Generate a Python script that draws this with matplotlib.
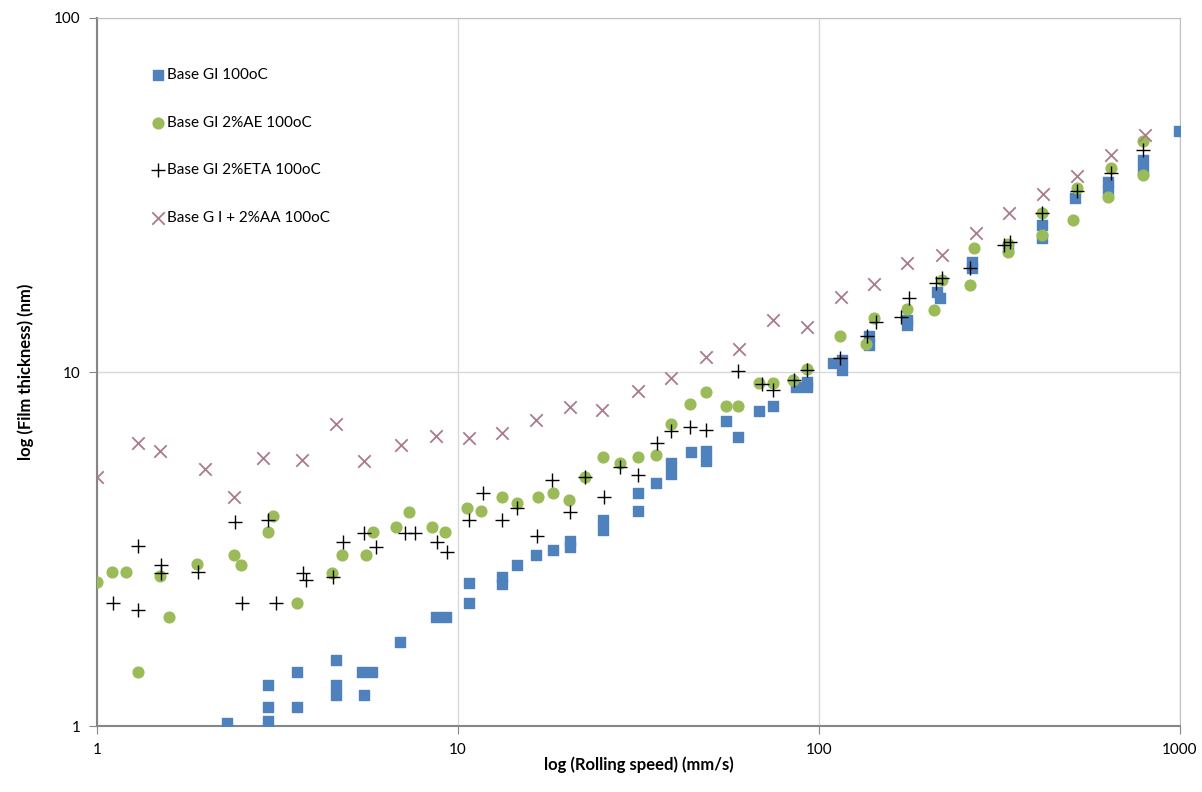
import matplotlib
matplotlib.use("Agg")
import matplotlib.pyplot as plt
from matplotlib.ticker import FixedLocator, NullLocator, FixedFormatter

plt.rcParams['font.family'] = ['Lato', 'DejaVu Sans']

# Base GI 100oC
gi_x = [2.29, 2.98, 2.98, 2.98, 3.58, 3.58, 4.59, 4.59, 4.59, 5.42, 5.78, 5.5,
        6.9, 8.69, 9.25, 10.7, 10.7, 13.2, 13.2, 14.6, 16.4, 18.3, 20.4, 20.4,
        25.2, 25.2, 31.5, 31.5, 35.3, 38.9, 38.9, 44.2, 48.6, 48.6, 55.2, 59.7,
        68.2, 74.6, 86.3, 92.6, 92.6, 109, 116, 116, 138, 138, 175, 175, 212,
        216, 265, 265, 334, 415, 415, 512, 632, 632, 790, 790, 994]
gi_y = [1.02, 1.31, 1.13, 1.03, 1.42, 1.13, 1.54, 1.31, 1.22, 1.42, 1.42, 1.22,
        1.73, 2.03, 2.03, 2.53, 2.23, 2.64, 2.52, 2.85, 3.05, 3.14, 3.33, 3.2,
        3.82, 3.57, 4.55, 4.05, 4.86, 5.53, 5.14, 5.94, 6.0, 5.6, 7.25, 6.57,
        7.75, 8.0, 9.1, 9.1, 9.4, 10.6, 10.8, 10.1, 12.6, 11.9, 14.0, 13.6, 16.8,
        16.2, 19.7, 20.4, 22.4, 26.0, 23.9, 31.0, 34.4, 32.7, 39.7, 37.3, 48.0]

# Base GI 2%AE 100oC
ae_x = [1.0, 1.1, 1.2, 1.3, 1.49, 1.58, 1.89, 2.4, 2.51, 2.98, 3.07, 3.58,
        4.48, 4.77, 5.56, 5.81, 6.73, 7.32, 8.47, 9.2, 10.6, 11.6, 13.2, 14.6,
        16.7, 18.3, 20.3, 22.5, 25.2, 28.1, 31.5, 35.3, 38.9, 43.9, 48.6, 55.2,
        59.7, 68.2, 74.6, 84.5, 92.6, 114, 135, 142, 175, 208, 219, 262, 268,
        334, 334, 415, 415, 505, 518, 632, 644, 790, 790]
ae_y = [2.55, 2.72, 2.72, 1.42, 2.65, 2.03, 2.87, 3.04, 2.85, 3.53, 3.92, 2.23,
        2.71, 3.04, 3.04, 3.53, 3.65, 4.02, 3.65, 3.53, 4.13, 4.05, 4.43, 4.26,
        4.43, 4.55, 4.35, 5.05, 5.75, 5.55, 5.75, 5.83, 7.13, 8.12, 8.78, 8.0,
        8.0, 9.31, 9.31, 9.49, 10.2, 12.6, 12.0, 14.2, 15.1, 15.0, 18.2, 17.6, 22.4,
        23.0, 21.8, 24.4, 28.1, 26.8, 33.0, 31.2, 37.7, 36.0, 45.0]

# Base GI 2%ETA 100oC
eta_x = [1.11, 1.3, 1.3, 1.5, 1.5, 1.9, 2.41, 2.52, 2.98, 3.13, 3.72, 3.79,
         4.5, 4.8, 5.49, 5.93, 7.13, 7.6, 8.74, 9.32, 10.7, 11.7, 13.2, 14.6,
         16.5, 18.2, 20.4, 22.5, 25.4, 28.1, 31.5, 35.5, 38.9, 43.9, 48.6, 59.7,
         69.5, 74.6, 85.3, 92.6, 114, 136, 144, 169, 177, 211, 219, 262, 325,
         338, 415, 518, 644, 790]
eta_y = [2.23, 3.22, 2.13, 2.85, 2.71, 2.72, 3.77, 2.23, 3.82, 2.23, 2.71, 2.58,
         2.63, 3.31, 3.51, 3.2, 3.51, 3.51, 3.31, 3.1, 3.82, 4.55, 3.82, 4.13,
         3.44, 4.95, 4.02, 5.05, 4.43, 5.39, 5.12, 6.3, 6.81, 6.99, 6.85, 10.06,
         9.24, 8.9, 9.49, 10.1, 10.95, 12.6, 13.8, 14.3, 16.2, 17.8, 18.4, 19.7, 22.9,
         23.3, 28.1, 32.5, 36.5, 42.4]

# Base G I + 2%AA 100oC
aa_x = [1.0, 1.3, 1.49, 1.99, 2.4, 2.88, 3.7, 4.59, 5.49, 6.95, 8.69, 10.7,
        13.2, 16.4, 20.4, 25.0, 31.5, 38.9, 48.6, 60.0, 74.6, 92.6, 115, 142,
        175, 219, 272, 336, 417, 518, 644, 800]
aa_y = [5.05, 6.3, 5.97, 5.32, 4.43, 5.7, 5.66, 7.13, 5.59, 6.22, 6.6, 6.51,
        6.73, 7.32, 7.96, 7.81, 8.84, 9.61, 11.0, 11.6, 14.0, 13.4, 16.3, 17.7,
        20.3, 21.4, 24.7, 28.1, 31.8, 35.8, 41.0, 46.7]

fig = plt.figure(figsize=(12.02, 7.92), dpi=100)
ax = fig.add_axes([0.0807, 0.0833, 0.9010, 0.8940])

ax.scatter(gi_x, gi_y, marker='s', s=60, color='#4F81BD', label='Base GI 100oC', zorder=3)
ax.scatter(ae_x, ae_y, marker='o', s=60, color='#9BBB59', label='Base GI 2%AE 100oC', zorder=3)
ax.scatter(eta_x, eta_y, marker='+', s=90, color='black', linewidths=1.0,
           label='Base GI 2%ETA 100oC', zorder=4)
ax.scatter(aa_x, aa_y, marker='x', s=80, color='#A97C88', linewidths=1.3,
           label='Base G I + 2%AA 100oC', zorder=4)

ax.set_xscale('log')
ax.set_yscale('log')
ax.set_xlim(1, 1000)
ax.set_ylim(1, 100)

ax.xaxis.set_major_locator(FixedLocator([1, 10, 100, 1000]))
ax.xaxis.set_major_formatter(FixedFormatter(['1', '10', '100', '1000']))
ax.yaxis.set_major_locator(FixedLocator([1, 10, 100]))
ax.yaxis.set_major_formatter(FixedFormatter(['1', '10', '100']))
ax.xaxis.set_minor_locator(NullLocator())
ax.yaxis.set_minor_locator(NullLocator())

ax.grid(True, which='major', color='#D9D9D9', linewidth=1.0)
ax.set_axisbelow(True)
for side in ['top', 'right']:
    ax.spines[side].set_color('#BFBFBF')
for side in ['left', 'bottom']:
    ax.spines[side].set_color('#868686')
    ax.spines[side].set_linewidth(1.5)
ax.tick_params(axis='both', length=6, color='#868686', labelsize=11, pad=6)

ax.set_xlabel('log (Rolling speed) (mm/s)', fontsize=12, fontweight='bold', labelpad=0)
ax.set_ylabel('log (Film thickness) (nm)', fontsize=12, fontweight='bold', labelpad=14)

leg = ax.legend(loc='upper left', bbox_to_anchor=(0.041, 0.942), frameon=False,
                fontsize=11, labelspacing=2.2, handletextpad=0.1, handlelength=1.0,
                borderaxespad=0.2)

fig.savefig('out.png', dpi=100)
